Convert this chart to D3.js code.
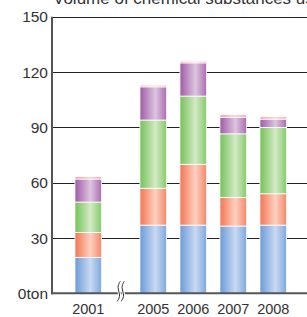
<!DOCTYPE html>
<html lang="en">
<head>
  <meta charset="UTF-8" />
  <title>Volume of chemical substances used</title>
  <script src="https://d3js.org/d3.v7.min.js"></script>
  <style>
    body { margin: 0; background: #fff; }
    text { font-family: "Liberation Sans", Arial, sans-serif; fill: #333; }
  </style>
</head>
<body>
<div id="chart"></div>
<script>
// Data (tons)
const years = ["2001", "2005", "2006", "2007", "2008"];
const seriesKeys = ["blue", "orange", "green", "purple", "pink", "palePink"];
const blueVals     = [19.5, 37, 37, 36.5, 37];
const orangeVals   = [13.5, 20, 33, 15.5, 17];
const greenVals    = [16.5, 37, 37, 34.5, 36];
const purpleVals   = [12.5, 18, 18, 9, 4.5];
const pinkVals     = [1.3, 1.0, 1.0, 1.4, 1.3];
const palePinkVals = [0.6, 0.5, 0.5, 0.7, 0.7];
const yTicks = [0, 30, 60, 90, 120, 150];

const width = 307, height = 317;
const svg = d3.select("#chart").append("svg")
  .attr("width", width)
  .attr("height", height);

// Gradient colours per series: left edge, light centre, right edge
const colours = {
  blue:     ["#6b9bd8", "#c9d9f1", "#7ea8de"],
  orange:   ["#f37552", "#fdd1c0", "#f5876a"],
  green:    ["#74c257", "#d3eac6", "#86c96c"],
  purple:   ["#a05aa6", "#dcc6df", "#ac6bb1"],
  pink:     ["#f59a9c", "#fcd2d3", "#f6a5a7"],
  palePink: ["#fbd3d3", "#fdeeee", "#fbd8d8"]
};

const defs = svg.append("defs");
seriesKeys.forEach(k => {
  const g = defs.append("linearGradient").attr("id", "grad-" + k)
    .attr("x1", "0%").attr("x2", "100%").attr("y1", "0%").attr("y2", "0%");
  g.append("stop").attr("offset", "0%").attr("stop-color", colours[k][0]);
  g.append("stop").attr("offset", "58%").attr("stop-color", colours[k][1]);
  g.append("stop").attr("offset", "100%").attr("stop-color", colours[k][2]);
});

const table = years.map((y, i) => ({
  year: y,
  blue: blueVals[i], orange: orangeVals[i], green: greenVals[i],
  purple: purpleVals[i], pink: pinkVals[i], palePink: palePinkVals[i]
}));

// Scales
const axisX = 52, plotRight = 307;
const y = d3.scaleLinear().domain([0, 150]).range([293.3, 16.8]);
const x = d3.scaleBand().domain(years).range([68.3, 268.3])
  .paddingInner(1 / 3).paddingOuter(1 / 6);
const breakGap = 25;  // extra room for the axis break after 2001
const xPos = d => x(d) + (d === years[0] ? 0 : breakGap);

// Gridlines
svg.append("g").selectAll("line")
  .data(yTicks.filter(t => t > 0))
  .join("line")
  .attr("x1", axisX).attr("x2", plotRight)
  .attr("y1", d => Math.round(y(d)) + 0.5).attr("y2", d => Math.round(y(d)) + 0.5)
  .attr("stroke", "#222").attr("stroke-width", 1);

// Stacked bars
const stacked = d3.stack().keys(seriesKeys)(table);
svg.append("g").selectAll("g")
  .data(stacked)
  .join("g")
  .attr("fill", d => "url(#grad-" + d.key + ")")
  .selectAll("rect")
  .data(d => d)
  .join("rect")
  .attr("x", d => xPos(d.data.year))
  .attr("width", x.bandwidth())
  .attr("y", d => y(d[1]))
  .attr("height", d => y(d[0]) - y(d[1]))
  .attr("stroke", "#fff")
  .attr("stroke-width", 0.8);

// Y axis and baseline
svg.append("line")
  .attr("x1", axisX).attr("x2", axisX)
  .attr("y1", y(150)).attr("y2", y(0) + 1)
  .attr("stroke", "#555").attr("stroke-width", 2);
svg.append("line")
  .attr("x1", axisX - 1).attr("x2", plotRight)
  .attr("y1", y(0)).attr("y2", y(0))
  .attr("stroke", "#555").attr("stroke-width", 2);

// Axis break marks
const bx = (xPos(years[0]) + x.bandwidth() + xPos(years[1])) / 2;
const breakPath = d3.line().curve(d3.curveBasis);
const breakPts = cx => [[cx + 1.5, y(0) - 12], [cx - 2, y(0) - 6], [cx + 2, y(0) + 2], [cx - 1.5, y(0) + 8]];
[-2, 2].forEach(dx => {
  svg.append("path").attr("d", breakPath(breakPts(bx + dx)))
    .attr("fill", "none").attr("stroke", "#fff").attr("stroke-width", 3);
});
[-2, 2].forEach(dx => {
  svg.append("path").attr("d", breakPath(breakPts(bx + dx)))
    .attr("fill", "none").attr("stroke", "#333").attr("stroke-width", 1);
});

// Y tick labels
svg.append("g").selectAll("text")
  .data(yTicks)
  .join("text")
  .attr("x", 48)
  .attr("y", d => y(d) + 5.5)
  .attr("text-anchor", "end")
  .attr("font-size", 15.5)
  .text(d => d === 0 ? "0ton" : d);

// X labels
svg.append("g").selectAll("text")
  .data(years)
  .join("text")
  .attr("x", d => xPos(d) + x.bandwidth() / 2)
  .attr("y", 314)
  .attr("text-anchor", "middle")
  .attr("font-size", 14.5)
  .text(d => d);

// Title (runs off the top and right edges, as in the reference)
svg.append("text")
  .attr("x", 53)
  .attr("y", 3.5)
  .attr("font-size", 17)
  .text("Volume of chemical substances used");
</script>
</body>
</html>
